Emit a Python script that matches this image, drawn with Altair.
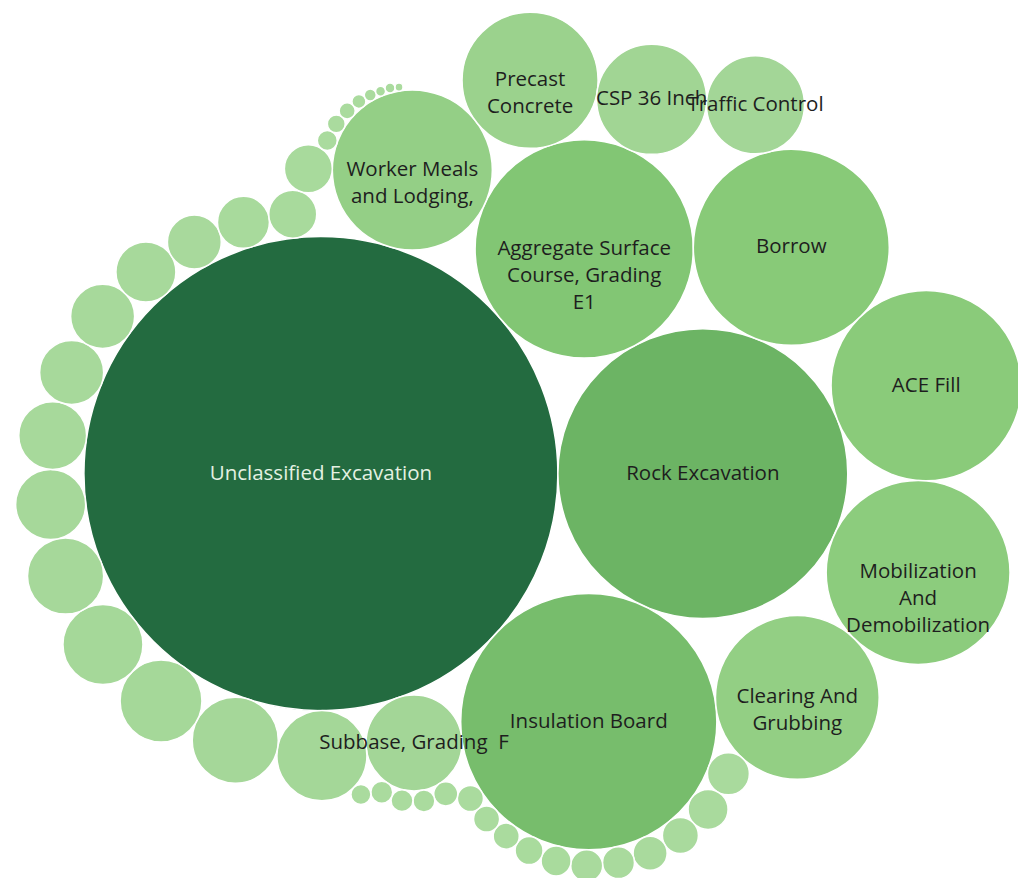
import math
import altair as alt
import pandas as pd

# ---- data ----
labels = [
    "Unclassified Excavation",
    "Rock Excavation",
    "Insulation Board",
    "Aggregate Surface\nCourse, Grading\nE1",
    "Borrow",
    "ACE Fill",
    "Mobilization\nAnd\nDemobilization",
    "Clearing And\nGrubbing",
    "Worker Meals\nand Lodging,",
    "Precast\nConcrete",
    "CSP 36 Inch",
    "Traffic Control",
    "Subbase, Grading\u00a0\u00a0F",
]
values = [
    1123000, 420000, 328000, 238000, 192000, 181000, 169000, 134000, 128000,
    92500, 60500, 48000, 46000, 40500, 37000, 33500, 32000, 29000, 24500,
    23000, 20500, 20500, 18000, 14500, 13500, 11500, 11500, 8800, 8000, 6500,
    5800, 5100, 5100, 4500, 3900, 3400, 3400, 3400, 2900, 2400, 2400, 2400,
    2000, 2000, 1600, 1300, 980, 720, 500, 500, 320,
]
names = [l.replace("\n", " ") for l in labels] + [
    f"Item {i + 1}" for i in range(len(labels), len(values))
]
shown = labels + [""] * (len(values) - len(labels))

# ---- packed-bubble layout (front-chain packing around an anchor bubble) ----
MAX_R = 237.0
vmax = max(values)
R = [math.sqrt(v / vmax) * MAX_R for v in values]


def pack(R):
    n = len(R)
    X = [0.0] * n
    Y = [0.0] * n

    def place_between(p, q, i):
        dx, dy = X[q] - X[p], Y[q] - Y[p]
        d = math.hypot(dx, dy)
        dp, dq = R[p] + R[i], R[q] + R[i]
        x = (dp * dp - dq * dq + d * d) / (2 * d)
        h = math.sqrt(max(0.0, dp * dp - x * x))
        ux, uy = dx / d, dy / d
        X[i] = X[p] + ux * x - uy * h
        Y[i] = Y[p] + uy * x + ux * h

    def hits(p, i):
        dr = R[p] + R[i] - 1e-6
        dx, dy = X[i] - X[p], Y[i] - Y[p]
        return dr > 0 and dr * dr > dx * dx + dy * dy

    X[1] = R[0] + R[1]
    place_between(0, 1, 2)
    nxt = {0: 2, 2: 1, 1: 0}
    prv = {2: 0, 1: 2, 0: 1}
    sw = sum(R[t] ** 2 for t in range(3))
    sx = sum(R[t] ** 2 * X[t] for t in range(3))
    sy = sum(R[t] ** 2 * Y[t] for t in range(3))
    anchor = 1
    for i in range(3, n):
        a, b = anchor, nxt[anchor]
        while True:
            place_between(a, b, i)
            j, k, sj, sk = nxt[b], prv[a], R[b], R[a]
            found = False
            while True:
                if sj <= sk:
                    if hits(j, i):
                        b = j; nxt[a] = b; prv[b] = a; found = True
                        break
                    sj += R[j]; j = nxt[j]
                else:
                    if hits(k, i):
                        a = k; nxt[a] = b; prv[b] = a; found = True
                        break
                    sk += R[k]; k = prv[k]
                if j == nxt[k]:
                    break
            if not found:
                break
        prv[i] = a; nxt[i] = b; nxt[a] = i; prv[b] = i
        w = R[i] ** 2
        sw += w; sx += w * X[i]; sy += w * Y[i]
        chain = []
        t = nxt[i]
        while t != i:
            chain.append(t)
            t = nxt[t]
        if anchor not in chain:
            cx, cy = sx / sw, sy / sw
            anchor = min(chain, key=lambda t: (X[t] - cx) ** 2 + (Y[t] - cy) ** 2)
    return X, Y


xs, ys = pack(R)
minx = min(x - r for x, r in zip(xs, R)); maxx = max(x + r for x, r in zip(xs, R))
miny = min(y - r for y, r in zip(ys, R)); maxy = max(y + r for y, r in zip(ys, R))

W, H = 1010, 870
x0 = (minx + maxx) / 2 - 510.5
y0 = (miny + maxy) / 2 - 439.0

df = pd.DataFrame({"name": names, "value": values, "label": shown, "x": xs, "y": ys})

xscale = alt.Scale(domain=[x0, x0 + W], nice=False, zero=False)
yscale = alt.Scale(domain=[y0, y0 + H], nice=False, zero=False, reverse=True)

color_scale = alt.Scale(
    domain=[0, 48000, 192000, 420000, vmax],
    range=["#aadb9e", "#a3d697", "#88ca78", "#6cb464", "#236b40"],
    interpolate="rgb",
)

base = alt.Chart(df).encode(
    x=alt.X("x:Q", scale=xscale, axis=None),
    y=alt.Y("y:Q", scale=yscale, axis=None),
)

bubbles = base.mark_circle(opacity=1, stroke="white", strokeWidth=1.5).encode(
    size=alt.Size("value:Q", scale=alt.Scale(domain=[0, vmax], range=[0, 4 * MAX_R ** 2]), legend=None),
    color=alt.Color("value:Q", scale=color_scale, legend=None),
    tooltip=["name:N", "value:Q"],
)

text = base.mark_text(
    font="Open Sans", fontSize=20.5, lineBreak="\n", lineHeight=27,
    align="center", baseline="middle",
).encode(
    text="label:N",
    color=alt.condition(alt.datum.value > 600000, alt.value("#e4f1e2"), alt.value("#1e1e1e")),
)

chart = (bubbles + text).properties(
    width=W, height=H, padding=0, autosize=alt.AutoSizeParams(type="none")
).configure_view(stroke=None)

chart.save("out.html", embed_options={"renderer": "svg", "actions": False})
